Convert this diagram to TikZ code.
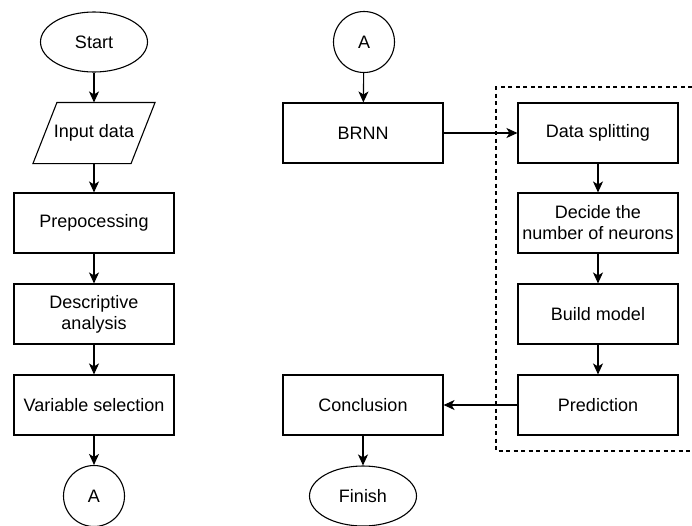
\documentclass[tikz,border=0pt]{standalone}
\usepackage{fontspec}
\setmainfont{Liberation Sans}
\usetikzlibrary{positioning,shapes.geometric,arrows.meta}
\tikzset{
  % --- flowchart blocks ------------------------------------------------------
  blk/.style={draw,line width=1.1pt,font=\fontsize{18}{21}\selectfont,
              align=center,inner sep=2pt},
  proc/.style={blk,rectangle,minimum width=160pt,minimum height=60pt},
  term/.style={blk,ellipse,minimum width=107pt,minimum height=60pt},
  % parallelogram body; the slanted outline is drawn from its corners
  inout/.style={blk,draw=none,rectangle,minimum width=97pt,minimum height=60pt},
  slant/.style={line width=1.1pt,line join=miter},
  jump/.style={blk,circle,minimum size=61pt,inner sep=0pt},
  % --- connectors ------------------------------------------------------------
  flow/.style={-{Stealth[length=11pt,width=10pt,inset=3pt]},line width=1.1pt},
  group/.style={line width=1.1pt,dash pattern=on 4pt off 3.5pt},
}
\begin{document}
\begin{tikzpicture}[x=1pt, y=1pt]
  \useasboundingbox (0,0) rectangle (692,-525);

  % left column
  \node[term]  (start) at (94,-42)  {Start};
  \node[inout] (input) at (94,-133) {Input data};
  \node[proc]  (prep)  at (94,-223) {Prepocessing};
  \node[proc]  (desc)  at (94,-314) {Descriptive\\analysis};
  \node[proc]  (vsel)  at (94,-405) {Variable selection};
  \node[jump]  (outA)  at (94,-496) {A};

  \draw[slant] ([xshift=12pt]input.north west) -- ([xshift=12pt]input.north east)
        -- ([xshift=-12pt]input.south east) -- ([xshift=-12pt]input.south west)
        -- cycle;

  % middle column
  \node[jump]  (inA)   at (364,-42)  {A};
  \node[proc]  (brnn)  at (363,-133) {BRNN};
  \node[proc]  (concl) at (363,-405) {Conclusion};
  \node[term]  (fin)   at (363,-496) {Finish};

  % right column (model steps)
  \node[proc]  (split) at (598,-133) {Data splitting};
  \node[proc]  (neur)  at (598,-223) {Decide the\\number of neurons};
  \node[proc]  (build) at (598,-314) {Build model};
  \node[proc]  (pred)  at (598,-405) {Prediction};

  \draw[group] (692,-87) -| (496,-451) -- (692,-451);

  \draw[flow] (start) -- (input);
  \draw[flow] (input) -- (prep);
  \draw[flow] (prep)  -- (desc);
  \draw[flow] (desc)  -- (vsel);
  \draw[flow] (vsel)  -- (outA);

  \draw[flow] (inA)   -- (brnn);
  \draw[flow] (brnn)  -- (split);
  \draw[flow] (split) -- (neur);
  \draw[flow] (neur)  -- (build);
  \draw[flow] (build) -- (pred);
  \draw[flow] (pred)  -- (concl);
  \draw[flow] (concl) -- (fin);
\end{tikzpicture}
\end{document}
